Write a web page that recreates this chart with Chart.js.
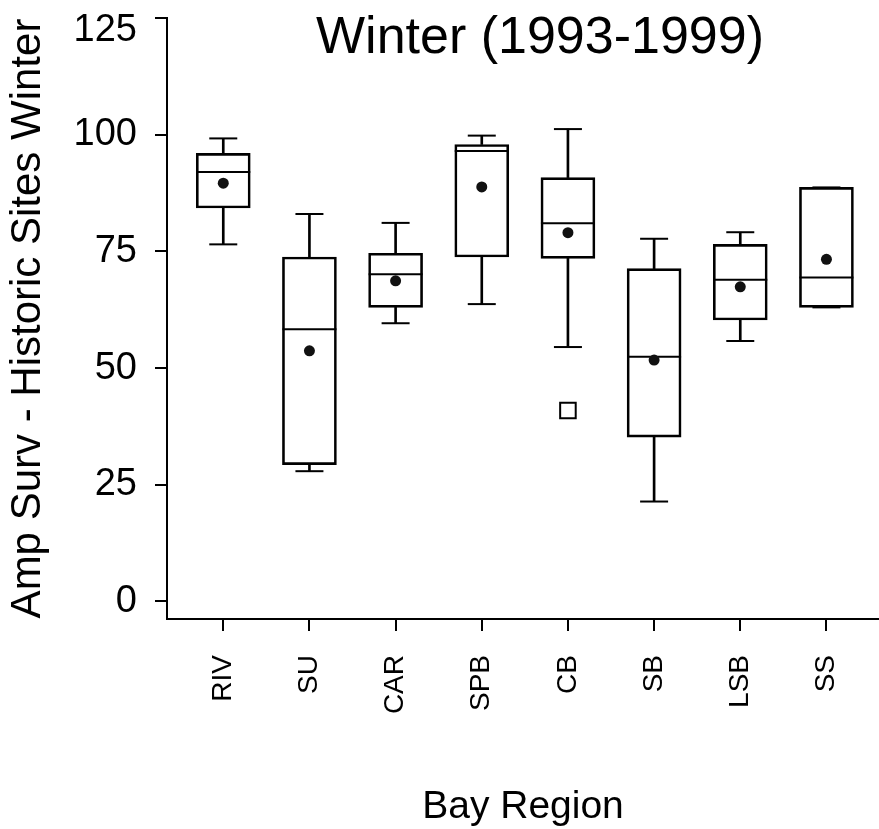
<!DOCTYPE html>
<html>
<head>
<meta charset="utf-8">
<script src="https://cdn.jsdelivr.net/npm/chart.js@4/dist/chart.umd.min.js"></script>
<style>
  html, body { margin: 0; padding: 0; background: #ffffff; }
  #wrap { width: 879px; height: 829px; }
</style>
</head>
<body>
<div id="wrap"><canvas id="c" width="879" height="829"></canvas></div>
<script>
// ---- data ----
const categories  = ['RIV', 'SU', 'CAR', 'SPB', 'CB', 'SB', 'LSB', 'SS'];
const whiskerLow  = [76.5, 27.9, 59.6, 63.7, 54.5, 21.4, 55.8, 63.0];
const q1          = [84.3, 29.3, 63.0, 73.8, 73.5, 35.2, 60.3, 63.0];
const median      = [92.0, 58.3, 70.1, 96.5, 81.0, 52.4, 68.9, 69.4];
const q3          = [96.0, 73.8, 74.6, 97.9, 90.8, 71.3, 76.5, 88.7];
const whiskerHigh = [99.2, 83.0, 81.1, 99.8, 101.2, 77.7, 79.1, 88.7];
const mean        = [89.6, 53.7, 68.7, 88.8, 79.0, 51.7, 67.4, 73.3];
const outlierCategory = ['CB'];
const outlierValue    = [40.9];
const yTicks = [0, 25, 50, 75, 100, 125];
const chartTitle = 'Winter (1993-1999)';
const xTitle = 'Bay Region';
const yTitle = 'Amp Surv - Historic Sites Winter';

const FONT = '"Liberation Sans", Arial, Helvetica, sans-serif';
Chart.defaults.font.family = FONT;
Chart.defaults.color = '#000';

const pos = i => i + 1;
const yMaxTick = yTicks[yTicks.length - 1];

const topTitle = {
  id: 'topTitle',
  afterDraw(chart) {
    const ctx = chart.ctx;
    ctx.save();
    ctx.font = '52px ' + FONT;
    ctx.fillStyle = '#000';
    ctx.textAlign = 'center';
    ctx.textBaseline = 'alphabetic';
    ctx.fillText(chartTitle, 540, 53);
    ctx.restore();
  }
};

const datasets = [
  { // means
    type: 'scatter',
    data: categories.map((c, i) => ({ x: pos(i), y: mean[i] })),
    pointStyle: 'circle', pointRadius: 5.5, pointHoverRadius: 5.5,
    backgroundColor: '#111', borderColor: '#111', borderWidth: 0
  },
  { // outliers
    type: 'scatter',
    data: outlierCategory.map((c, k) => ({ x: pos(categories.indexOf(c)), y: outlierValue[k] })),
    pointStyle: 'rect', pointRadius: 11, pointHoverRadius: 11,
    backgroundColor: '#fff', borderColor: '#000', borderWidth: 2
  },
  { // medians
    type: 'scatter',
    data: categories.map((c, i) => ({ x: pos(i), y: median[i] })),
    pointStyle: 'line', pointRadius: 27, pointHoverRadius: 27,
    borderColor: '#000', borderWidth: 2
  },
  { // whisker caps (high)
    type: 'scatter',
    data: categories.map((c, i) => ({ x: pos(i), y: whiskerHigh[i] })),
    pointStyle: 'line', pointRadius: 14, pointHoverRadius: 14,
    borderColor: '#000', borderWidth: 2
  },
  { // whisker caps (low)
    type: 'scatter',
    data: categories.map((c, i) => ({ x: pos(i), y: whiskerLow[i] })),
    pointStyle: 'line', pointRadius: 14, pointHoverRadius: 14,
    borderColor: '#000', borderWidth: 2
  },
  { // boxes
    type: 'bar',
    data: categories.map((c, i) => ({ x: pos(i), y: [q1[i], q3[i]] })),
    backgroundColor: 'rgba(255,255,255,0)', borderColor: '#000', borderWidth: 2,
    borderSkipped: false, barThickness: 54, grouped: false
  },
  { // upper whisker stems
    type: 'bar',
    data: categories.map((c, i) => ({ x: pos(i), y: [q3[i], whiskerHigh[i]] })),
    backgroundColor: '#000', borderWidth: 0, barThickness: 2, grouped: false
  },
  { // lower whisker stems
    type: 'bar',
    data: categories.map((c, i) => ({ x: pos(i), y: [whiskerLow[i], q1[i]] })),
    backgroundColor: '#000', borderWidth: 0, barThickness: 2, grouped: false
  }
];

new Chart(document.getElementById('c'), {
  type: 'scatter',
  data: { datasets },
  plugins: [topTitle],
  options: {
    responsive: false,
    devicePixelRatio: 1,
    animation: false,
    events: [],
    layout: { autoPadding: false, padding: { top: 18, left: 0, right: 0, bottom: 0 } },
    plugins: { legend: { display: false }, tooltip: { enabled: false }, title: { display: false } },
    scales: {
      x: {
        type: 'linear', min: 0.347, max: 8.61, offset: false,
        afterBuildTicks: s => { s.ticks = categories.map((c, i) => ({ value: pos(i) })); },
        afterFit: s => { s.height = 210; s.paddingLeft = 0; s.paddingRight = 0; },
        ticks: {
          autoSkip: false, minRotation: 90, maxRotation: 90, padding: 24,
          font: { size: 28, family: FONT }, color: '#000',
          callback: v => categories[Math.round(v) - 1]
        },
        grid: { drawOnChartArea: false, drawTicks: true, tickLength: 12, color: '#000', lineWidth: 2, offset: false },
        border: { display: true, color: '#000', width: 2 },
        title: { display: true, text: xTitle, font: { size: 39, family: FONT }, color: '#000', padding: { top: 0, bottom: -2 } }
      },
      y: {
        type: 'linear', min: -3.77, max: 125,
        afterBuildTicks: s => { s.ticks = yTicks.map(v => ({ value: v })); },
        afterFit: s => { s.width = 167; s.paddingTop = 0; s.paddingBottom = 0; },
        ticks: {
          padding: 18, color: '#000',
          font: c => (c.tick && c.tick.value === yMaxTick)
            ? { size: 38, family: FONT, lineHeight: 0.66 }
            : { size: 38, family: FONT },
          // the top label sits just below its tick, as in the reference
          callback: v => v === yMaxTick ? ['', String(v)] : String(v)
        },
        grid: { drawOnChartArea: false, drawTicks: true, tickLength: 12, color: '#000', lineWidth: 2 },
        border: { display: true, color: '#000', width: 2 },
        title: { display: true, text: yTitle, font: { size: 42, family: FONT }, color: '#000', padding: { top: 3, bottom: 0 } }
      }
    }
  }
});
</script>
</body>
</html>
